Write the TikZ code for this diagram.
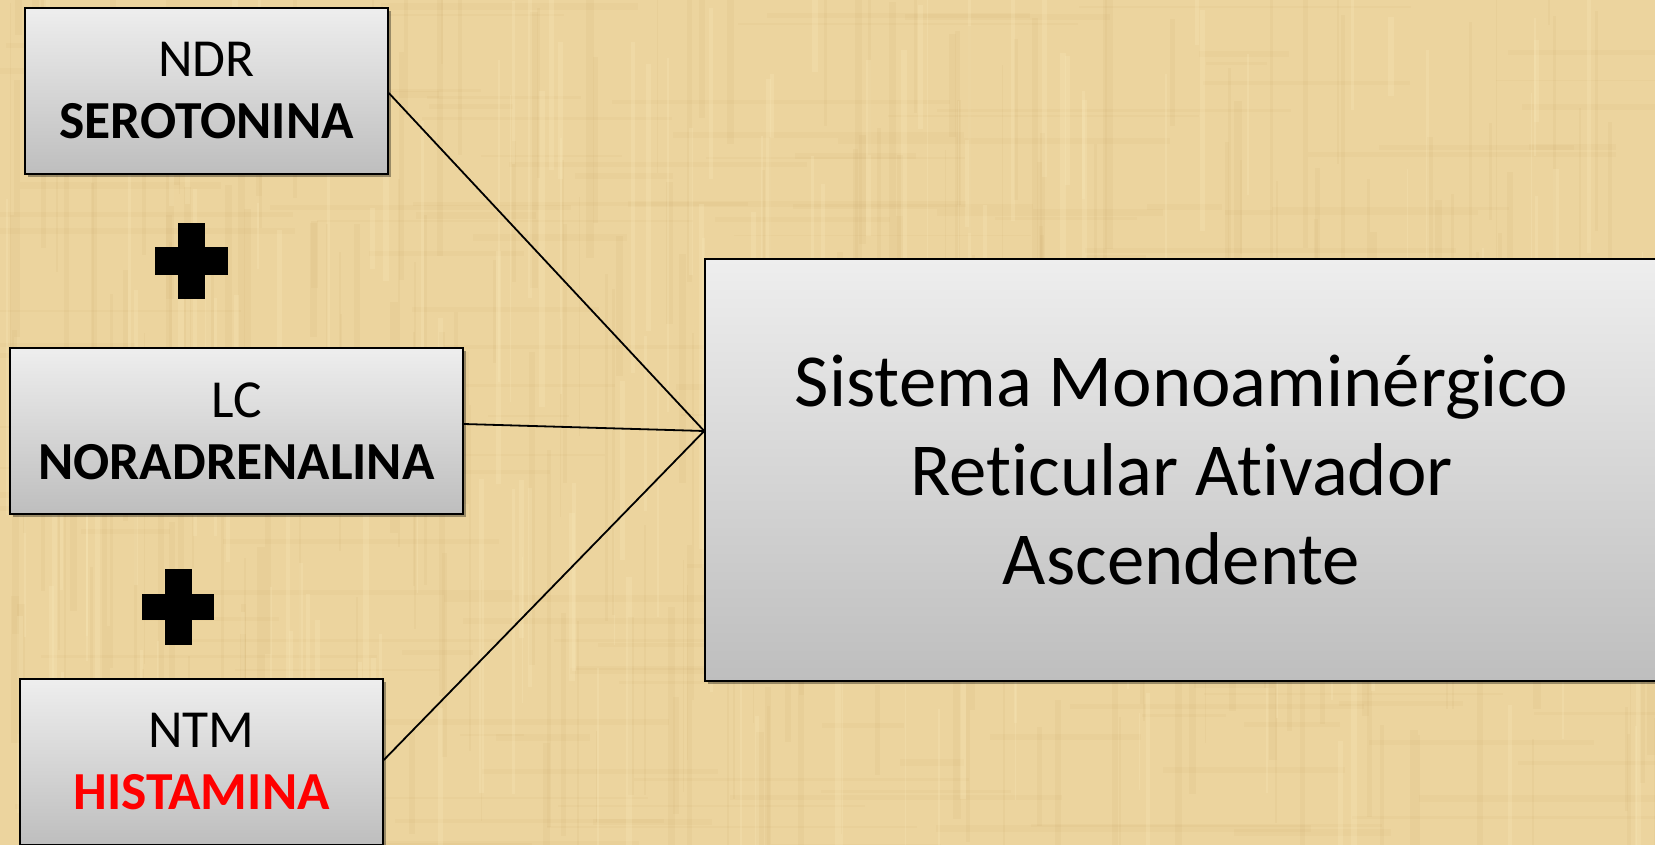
\documentclass[tikz,border=0pt]{standalone}
\usepackage{fontspec}
\setmainfont[Ligatures=NoCommon]{Carlito}
\usetikzlibrary{shadows}
\definecolor{paper}{RGB}{236,212,158}
\definecolor{paperdark}{RGB}{196,160,92}
\definecolor{paperlight}{RGB}{252,236,192}
\definecolor{boxtop}{RGB}{238,238,238}
\definecolor{boxbot}{RGB}{190,190,190}
\definecolor{histred}{RGB}{255,0,0}

\begin{document}
\begin{tikzpicture}[x=1pt,y=-1pt,
  panel/.style={draw=black, line width=1.6pt, top color=boxtop, bottom color=boxbot,
    inner sep=0pt, align=center,
    drop shadow={shadow xshift=3pt, shadow yshift=-3pt, fill=black, opacity=0.35}},
  smallbox/.style={panel, minimum height=166pt, font=\fontsize{53.5}{62}\selectfont},
  bigbox/.style={panel, minimum width=953pt, minimum height=422pt, font=\fontsize{74.8}{89}\selectfont},
  link/.style={draw=black, line width=1.8pt},
  plusbar/.style={fill=black}]

\useasboundingbox (0,0) rectangle (1655,845);
\clip (0,0) rectangle (1655,845);

% parchment background with woven streaks
\fill[paper] (0,0) rectangle (1655,845);
\pgfmathsetseed{42}
\foreach \i in {1,...,260} {
  \pgfmathsetmacro\xx{rnd*1655}
  \pgfmathsetmacro\yy{rnd*845-100}
  \pgfmathsetmacro\ww{1+rnd*7}
  \pgfmathsetmacro\hh{60+rnd*320}
  \fill[paperdark, opacity=0.08] (\xx,\yy) rectangle ++(\ww,\hh);
}
\foreach \i in {1,...,200} {
  \pgfmathsetmacro\xx{rnd*1655-100}
  \pgfmathsetmacro\yy{rnd*845}
  \pgfmathsetmacro\ww{60+rnd*320}
  \pgfmathsetmacro\hh{1+rnd*6}
  \fill[paperdark, opacity=0.07] (\xx,\yy) rectangle ++(\ww,\hh);
}
\foreach \i in {1,...,160} {
  \pgfmathsetmacro\xx{rnd*1655}
  \pgfmathsetmacro\yy{rnd*845-100}
  \pgfmathsetmacro\ww{1+rnd*5}
  \pgfmathsetmacro\hh{60+rnd*300}
  \fill[paperlight, opacity=0.22] (\xx,\yy) rectangle ++(\ww,\hh);
}

% source nuclei
\node[smallbox, minimum width=363pt] (ndr) at (206.5,91) {NDR\\\textbf{SEROTONINA}};
\node[smallbox, minimum width=453pt] (nor) at (236.5,431) {LC\\\textbf{NORADRENALINA}};
\node[smallbox, minimum width=363pt] (ntm) at (201.5,762) {NTM\\\textbf{\color{histred}HISTAMINA}};

% target system
\node[bigbox] (sys) at (1181.5,470) {Sistema Monoaminérgico\\Reticular Ativador\\Ascendente};

% plus signs between the nuclei
\fill[plusbar] (178,223) rectangle (205,299);
\fill[plusbar] (155,247) rectangle (228,275);
\fill[plusbar] (165,569) rectangle (192,645);
\fill[plusbar] (142,594) rectangle (214,620);

% converging connectors
\coordinate (hub) at ([yshift=39pt]sys.west);
\draw[link] ([yshift=-2pt]ndr.east) -- (hub);
\draw[link] ([yshift=7pt]nor.east) -- (hub);
\draw[link] ([yshift=2pt]ntm.east) -- (hub);

\end{tikzpicture}
\end{document}
